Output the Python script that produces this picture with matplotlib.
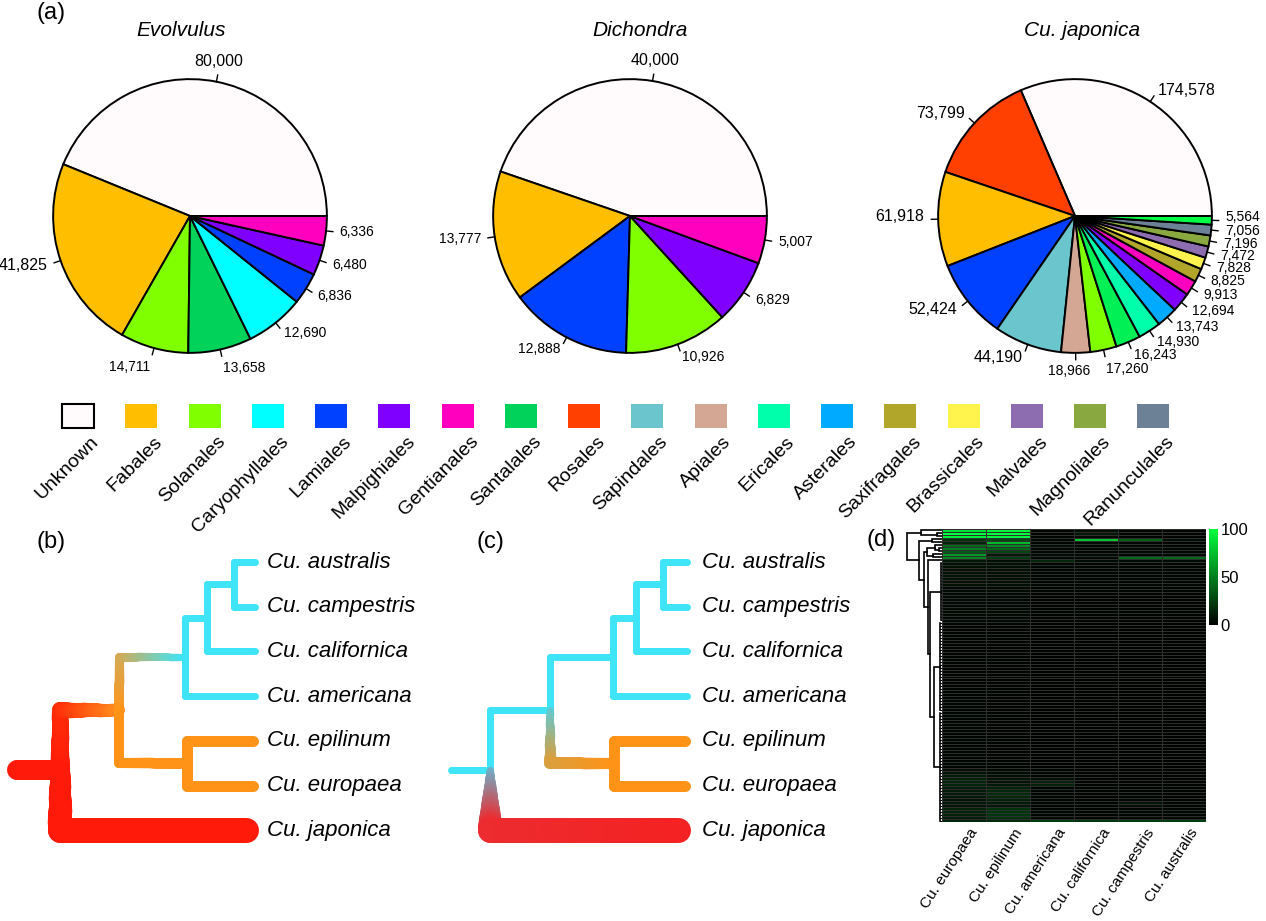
import numpy as np
import matplotlib
matplotlib.use('Agg')
import matplotlib.pyplot as plt
from matplotlib.collections import LineCollection
from matplotlib.colors import LinearSegmentedColormap, to_rgb
from matplotlib.patches import Rectangle

plt.rcParams['font.family'] = ['Liberation Sans', 'DejaVu Sans']

W, H = 1266, 921

# ---------------- data ----------------
LEGEND_ORDERS = ['Unknown', 'Fabales', 'Solanales', 'Caryophyllales', 'Lamiales',
                 'Malpighiales', 'Gentianales', 'Santalales', 'Rosales', 'Sapindales',
                 'Apiales', 'Ericales', 'Asterales', 'Saxifragales', 'Brassicales',
                 'Malvales', 'Magnoliales', 'Ranunculales']

EVOL_ORDERS = ['Unknown', 'Fabales', 'Solanales', 'Santalales', 'Caryophyllales',
               'Lamiales', 'Malpighiales', 'Gentianales']
EVOL_COUNTS = [80000, 41825, 14711, 13658, 12690, 6836, 6480, 6336]

DICH_ORDERS = ['Unknown', 'Fabales', 'Lamiales', 'Solanales', 'Malpighiales', 'Gentianales']
DICH_COUNTS = [40000, 13777, 12888, 10926, 6829, 5007]

JAP_ORDERS = ['Unknown', 'Rosales', 'Fabales', 'Lamiales', 'Sapindales', 'Apiales',
              'Solanales', 'green A', 'Ericales', 'Asterales', 'Malpighiales',
              'Gentianales', 'Saxifragales', 'Brassicales', 'Malvales', 'Magnoliales',
              'Ranunculales', 'green B']
JAP_COUNTS = [174578, 73799, 61918, 52424, 44190, 18966, 17260, 16243, 14930, 13743,
              12694, 9913, 8825, 7828, 7472, 7196, 7056, 5564]

TIPS = ['Cu. australis', 'Cu. campestris', 'Cu. californica', 'Cu. americana',
        'Cu. epilinum', 'Cu. europaea', 'Cu. japonica']
TREE_CHILDREN = {'root': ['co', 'Cu. japonica'],
                 'co': ['cy', 'or'],
                 'cy': ['acc', 'Cu. americana'],
                 'acc': ['ac', 'Cu. californica'],
                 'ac': ['Cu. australis', 'Cu. campestris'],
                 'or': ['Cu. epilinum', 'Cu. europaea']}
DEPTH_B = {'stub': -0.27, 'root': 0.0, 'co': 0.30, 'cy': 0.63, 'acc': 0.74, 'ac': 0.88, 'or': 0.64}
DEPTH_C = {'stub': -0.215, 'root': 0.0, 'co': 0.30, 'cy': 0.615, 'acc': 0.73, 'ac': 0.865, 'or': 0.62}

HEAT_SPECIES = ['Cu. europaea', 'Cu. epilinum', 'Cu. americana', 'Cu. californica',
                'Cu. campestris', 'Cu. australis']
HEAT_TOP = [[88, 95, 2, 6, 2, 2],
            [100, 100, 2, 10, 2, 2],
            [96, 98, 2, 4, 2, 2],
            [22, 28, 3, 78, 38, 6],
            [14, 72, 2, 4, 3, 2],
            [42, 55, 6, 3, 3, 3],
            [50, 40, 3, 3, 4, 3],
            [36, 28, 3, 2, 3, 3],
            [62, 10, 4, 5, 3, 4],
            [52, 24, 5, 5, 42, 42],
            [10, 6, 16, 5, 5, 5]]
HEAT_BODY = [(8, [7, 6, 3, 3, 3, 3]),
             (12, [4, 4, 2, 2, 2, 2]),
             (25, [2, 2, 1, 1, 1, 1]),
             (24, [3, 2, 1, 1, 1, 1])]
HEAT_BOTTOM = [[6, 4, 2, 2, 2, 2],
               [8, 5, 2, 2, 2, 2],
               [12, 6, 3, 2, 2, 2],
               [14, 8, 6, 2, 2, 2],
               [15, 8, 14, 2, 2, 2],
               [15, 10, 14, 2, 2, 2],
               [12, 14, 3, 2, 2, 2],
               [10, 16, 3, 2, 2, 2],
               [12, 18, 3, 2, 2, 2],
               [10, 16, 3, 2, 3, 2],
               [8, 14, 3, 2, 3, 2],
               [10, 12, 3, 3, 8, 3],
               [8, 10, 3, 3, 6, 3],
               [14, 20, 3, 2, 3, 3],
               [15, 22, 3, 2, 3, 3],
               [14, 22, 3, 2, 3, 3],
               [12, 20, 4, 3, 4, 4],
               [15, 18, 25, 22, 25, 25]]
# row dendrogram: ('n', height, a, b) node, ('b', height, first, last) tight block, int leaf
DEND = ('n', 1.0,
        ('n', 0.6, 0, ('n', 0.15, 1, 2)),
        ('n', 0.66,
         ('n', 0.3, 3, 4),
         ('n', 0.52,
          ('n', 0.42, ('n', 0.2, 5, ('n', 0.1, 6, 7)), ('n', 0.25, 8, 9)),
          ('n', 0.40, 10,
           ('n', 0.33, ('b', 0.04, 11, 30),
            ('n', 0.22, ('b', 0.05, 31, 60), ('b', 0.07, 61, 97)))))))

# ---------------- styles ----------------
ORDER_COLORS = {'Unknown': '#fffafb', 'Fabales': '#ffbf00', 'Solanales': '#80ff00',
                'Caryophyllales': '#00ffff', 'Lamiales': '#0040ff', 'Malpighiales': '#8000ff',
                'Gentianales': '#ff00bf', 'Santalales': '#00d25a', 'Rosales': '#ff4000',
                'Sapindales': '#6ac6cc', 'Apiales': '#d4a694', 'Ericales': '#00ffaa',
                'Asterales': '#00aaff', 'Saxifragales': '#b2a62a', 'Brassicales': '#fff34d',
                'Malvales': '#8e6cb0', 'Magnoliales': '#89a840', 'Ranunculales': '#6c8096',
                'green A': '#00f055', 'green B': '#00ff44'}
CYAN, ORANGE, RED = '#3fe4f7', '#ff9318', '#ff1a0a'

fig = plt.figure(figsize=(W / 100, H / 100), dpi=100)


def px_axes(x0, y0, x1, y1):
    return fig.add_axes([x0 / W, 1 - y1 / H, (x1 - x0) / W, (y1 - y0) / H])


base = px_axes(0, 0, W, H)
base.set_xlim(0, W)
base.set_ylim(H, 0)
base.axis('off')

# ---------------- (a) pies ----------------
PIE_CY = 216


def draw_pie(cx, title_x, title, orders, counts):
    S = 219
    ax = px_axes(cx - S, PIE_CY - S, cx + S, PIE_CY + S)
    labels = [f'{c:,}' for c in counts]
    wedges, texts = ax.pie(counts, colors=[ORDER_COLORS[o] for o in orders], labels=labels,
                           labeldistance=1.1, startangle=0, counterclock=True,
                           wedgeprops=dict(edgecolor='black', linewidth=1.4),
                           textprops=dict(fontsize=10))
    for w, t, c in zip(wedges, texts, counts):
        th = np.deg2rad((w.theta1 + w.theta2) / 2)
        ax.plot([np.cos(th), 1.05 * np.cos(th)], [np.sin(th), 1.05 * np.sin(th)],
                color='black', lw=1)
        if c >= 40000:
            t.set_fontsize(11.5)
        tx, ty = t.get_position()
        if np.sin(th) > 0.9:
            t.set_ha('center')
            t.set_position((tx, ty + 0.05))
        elif np.sin(th) < -0.99:
            t.set_ha('center')
            t.set_position((tx - 0.05, ty - 0.03))
        elif np.sin(th) < -0.95:
            t.set_position((tx, ty - 0.04))
        elif abs(np.sin(th)) < 0.05:
            t.set_position((tx, ty + 0.025))
    ax.set_xlim(-1.6, 1.6)
    ax.set_ylim(-1.6, 1.6)
    ax.set_aspect('equal')
    ax.axis('off')
    base.text(title_x, 30, title, ha='center', va='center', style='italic', fontsize=15)


draw_pie(190, 181, 'Evolvulus', EVOL_ORDERS, EVOL_COUNTS)
draw_pie(630, 640, 'Dichondra', DICH_ORDERS, DICH_COUNTS)
draw_pie(1075, 1082, 'Cu. japonica', JAP_ORDERS, JAP_COUNTS)
base.text(36, 13, '(a)', ha='left', va='center', fontsize=17)

# legend row
for i, name in enumerate(LEGEND_ORDERS):
    cx = 78 + i * 63.25
    base.add_patch(Rectangle((cx - 16, 404), 32, 24, facecolor=ORDER_COLORS[name],
                             edgecolor='black' if name == 'Unknown' else 'none', lw=1.5))
    base.text(cx + 12, 433, name, rotation=45, ha='right', va='top',
              rotation_mode='anchor', fontsize=14)


# ---------------- (b), (c) trees ----------------
def grad_path(pts, cols, widths, n=30):
    segs, cs, ws = [], [], []
    for k in range(len(pts) - 1):
        p, q = np.array(pts[k], float), np.array(pts[k + 1], float)
        if np.allclose(p, q):
            continue
        ca, cb = np.array(to_rgb(cols[k])), np.array(to_rgb(cols[k + 1]))
        ts = np.linspace(0, 1, n + 1)
        for t0, t1 in zip(ts[:-1], ts[1:]):
            tm = (t0 + t1) / 2
            segs.append([p + (q - p) * t0, p + (q - p) * t1])
            cs.append(ca + (cb - ca) * tm)
            ws.append((widths[k] + (widths[k + 1] - widths[k]) * tm) * 0.72)
    base.add_collection(LineCollection(segs, colors=cs, linewidths=ws, capstyle='round'))


def draw_tree(x0, scale, depth, styles, label_dx):
    ys = {t: 562 + i * 44.7 for i, t in enumerate(TIPS)}

    def node_y(n):
        if n not in ys:
            ys[n] = np.mean([node_y(c) for c in TREE_CHILDREN[n]])
        return ys[n]

    node_y('root')
    xs = {n: x0 + d * scale for n, d in depth.items()}
    for t in TIPS:
        xs[t] = x0 + scale
    cols, ws = styles['stub']
    grad_path([(xs['stub'] + ws[0] / 2, ys['root']), (xs['root'], ys['root'])], cols[:2], ws[:2])
    for parent, kids in TREE_CHILDREN.items():
        for kid in kids:
            cols, ws = styles.get(kid, styles['_cyan'] if kid in ('cy', 'acc', 'ac') or
                                  kid in TIPS[:4] else styles['_orange'])
            xe = xs[kid] - (ws[2] / 2 if kid in TIPS else 0)
            grad_path([(xs[parent], ys[parent]), (xs[parent], ys[kid]), (xe, ys[kid])], cols, ws)
    for t in TIPS:
        base.text(xs[t] + label_dx, ys[t], t, ha='left', va='center', style='italic', fontsize=16)


STYLE_B = {'stub': ([RED, RED], [20, 20]),
           'co': ([RED, '#ff2a08', '#ff8a1c'], [19, 16, 12]),
           'Cu. japonica': ([RED, RED, RED], [20, 25, 25]),
           'cy': ([ORANGE, '#d8a850', CYAN], [10, 9, 7]),
           'or': ([ORANGE] * 3, [10, 10, 11]),
           'Cu. epilinum': ([ORANGE] * 3, [11, 11, 11]),
           'Cu. europaea': ([ORANGE] * 3, [11, 11, 11]),
           '_cyan': ([CYAN] * 3, [7, 7, 7]),
           '_orange': ([ORANGE] * 3, [11, 11, 11])}
STYLE_C = {'stub': ([CYAN, CYAN], [7, 7]),
           'co': ([CYAN] * 3, [7, 7, 7]),
           'Cu. japonica': (['#6ab4cc', '#ec2c30', '#f42222'], [7, 25, 25]),
           'cy': ([CYAN] * 3, [7, 7, 7]),
           'or': (['#5ccbd8', '#d8a040', ORANGE], [7, 12, 11]),
           'Cu. epilinum': ([ORANGE] * 3, [11, 11, 11]),
           'Cu. europaea': ([ORANGE] * 3, [11, 11, 11]),
           '_cyan': ([CYAN] * 3, [7, 7, 7]),
           '_orange': ([ORANGE] * 3, [11, 11, 11])}

draw_tree(60, 198, DEPTH_B, STYLE_B, 9)
draw_tree(490, 200, DEPTH_C, STYLE_C, 12)
base.text(36, 542, '(b)', ha='left', va='center', fontsize=17)
base.text(476, 542, '(c)', ha='left', va='center', fontsize=17)

# ---------------- (d) heatmap ----------------
rows = list(HEAT_TOP)
for count, vals in HEAT_BODY:
    rows += [vals] * count
rows += HEAT_BOTTOM
mat = np.array(rows, float)
n_rows = mat.shape[0]

cmap = LinearSegmentedColormap.from_list('kg', ['#000000', '#00ff3c'])
hx0, hy0, hx1, hy1 = 942, 529, 1206, 822
hax = px_axes(hx0, hy0, hx1, hy1)
mesh = hax.pcolormesh(mat, cmap=cmap, vmin=0, vmax=100, edgecolors='#2e2e2e', linewidth=0.4)
hax.set_xlim(0, mat.shape[1])
hax.set_ylim(n_rows, 0)
hax.axis('off')

for j, sp in enumerate(HEAT_SPECIES):
    cxp = hx0 + (j + 0.5) * (hx1 - hx0) / len(HEAT_SPECIES)
    base.text(cxp + 5, hy1 + 4, sp, rotation=57, ha='right', va='top',
              rotation_mode='anchor', fontsize=11)

cax = px_axes(1209, 529, 1218, 625)
cb = fig.colorbar(mesh, cax=cax, ticks=[0, 50, 100])
cb.outline.set_visible(False)
cax.tick_params(length=0, labelsize=12, pad=2)

dax = px_axes(905, hy0, hx0, hy1)
dax.set_xlim(1.06, 0)
dax.set_ylim(n_rows, 0)
dax.axis('off')


def draw_dend(node):
    if isinstance(node, int):
        return node + 0.5, 0.0
    kind, h = node[0], node[1]
    if kind == 'b':
        a, b = node[2], node[3]
        for r in range(a, b + 1):
            dax.plot([0, h], [r + 0.5, r + 0.5], color='black', lw=0.8)
        dax.plot([h, h], [a + 0.5, b + 0.5], color='black', lw=1.2)
        return (a + b + 1) / 2, h
    y1, h1 = draw_dend(node[2])
    y2, h2 = draw_dend(node[3])
    dax.plot([h1, h, h, h2], [y1, y1, y2, y2], color='black', lw=1.2, solid_joinstyle='miter')
    return (y1 + y2) / 2, h


draw_dend(DEND)
base.text(866, 540, '(d)', ha='left', va='center', fontsize=17)

fig.savefig('out.png', dpi=100)
